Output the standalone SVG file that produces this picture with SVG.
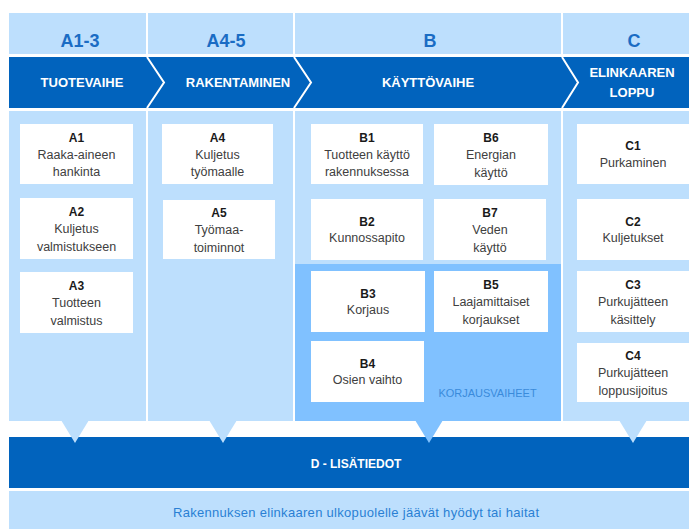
<svg xmlns="http://www.w3.org/2000/svg" width="689" height="529" viewBox="0 0 689 529">
<style>
.lt{fill:#BDDFFD}
.md{fill:#80C1FF}
.dk{fill:#0163BD}
.box{fill:#FFFFFF}
.hd{font-family:"Liberation Sans",Arial,sans-serif;font-weight:bold;font-size:18px;fill:#1A6CC4;text-anchor:middle}
.ph{font-family:"Liberation Sans",Arial,sans-serif;font-weight:bold;font-size:13px;fill:#FFFFFF;text-anchor:middle}
.lb{font-family:"Liberation Sans",Arial,sans-serif;font-weight:bold;font-size:12px;fill:#1A1A1A;text-anchor:middle}
.tx{font-family:"Liberation Sans",Arial,sans-serif;font-size:12.5px;fill:#404040;text-anchor:middle}
.kv{font-family:"Liberation Sans",Arial,sans-serif;font-size:11px;fill:#3A8BDB;text-anchor:middle}
.ft{font-family:"Liberation Sans",Arial,sans-serif;font-size:13px;fill:#2A7FD4;text-anchor:middle}
.sep{fill:none;stroke:#FFFFFF;stroke-width:2}
</style>
<rect width="689" height="529" fill="#FFFFFF"/>
<g id="header-row">
<rect class="lt" x="9" y="13" width="137" height="41"/>
<rect class="lt" x="148" y="13" width="145" height="41"/>
<rect class="lt" x="295" y="13" width="266" height="41"/>
<rect class="lt" x="563" y="13" width="126" height="41"/>
<text class="hd" x="80" y="47">A1-3</text>
<text class="hd" x="226" y="47">A4-5</text>
<text class="hd" x="430" y="47">B</text>
<text class="hd" x="634" y="47">C</text>
</g>
<g id="phase-band">
<rect class="dk" x="9" y="57" width="680" height="51"/>
<polyline class="sep" points="147,57 164,82.5 147,108"/>
<polyline class="sep" points="294,57 311,82.5 294,108"/>
<polyline class="sep" points="562,57 578,82.5 562,108"/>
<text class="ph" x="82" y="87">TUOTEVAIHE</text>
<text class="ph" x="238" y="87">RAKENTAMINEN</text>
<text class="ph" x="428" y="87">KÄYTTÖVAIHE</text>
<text class="ph" x="632" y="77">ELINKAAREN</text>
<text class="ph" x="632" y="97">LOPPU</text>
</g>
<g id="columns">
<rect class="lt" x="9" y="111" width="137" height="310"/>
<rect class="lt" x="148" y="111" width="145" height="310"/>
<rect class="lt" x="295" y="111" width="266" height="153"/>
<rect class="md" x="295" y="264" width="266" height="157"/>
<rect class="lt" x="563" y="111" width="126" height="310"/>
<text class="kv" x="487.5" y="397">KORJAUSVAIHEET</text>
</g>
<g id="connectors">
<rect class="dk" x="9" y="437" width="680" height="51"/>
<polygon class="lt" points="61,420 89,420 75,443"/>
<polygon class="lt" points="209,420 237,420 223,443"/>
<polygon class="md" points="415,420 443,420 429,443"/>
<polygon class="lt" points="619,420 647,420 633,443"/>
</g>
<g id="A1"><rect class="box" x="20" y="124" width="113" height="60"/>
<text class="lb" x="76.5" y="141.5">A1</text><text class="tx" x="76.5" y="158.5">Raaka-aineen</text><text class="tx" x="76.5" y="176">hankinta</text></g>
<g id="A2"><rect class="box" x="20" y="198" width="113" height="61"/>
<text class="lb" x="76.5" y="216">A2</text><text class="tx" x="76.5" y="233">Kuljetus</text><text class="tx" x="76.5" y="250.5">valmistukseen</text></g>
<g id="A3"><rect class="box" x="20" y="272" width="113" height="61"/>
<text class="lb" x="76.5" y="290">A3</text><text class="tx" x="76.5" y="307">Tuotteen</text><text class="tx" x="76.5" y="324.5">valmistus</text></g>
<g id="A4"><rect class="box" x="162" y="124" width="111" height="60"/>
<text class="lb" x="217.5" y="141.5">A4</text><text class="tx" x="217.5" y="158.5">Kuljetus</text><text class="tx" x="217.5" y="176">työmaalle</text></g>
<g id="A5"><rect class="box" x="163" y="200" width="112" height="59"/>
<text class="lb" x="219" y="217">A5</text><text class="tx" x="219" y="234">Työmaa-</text><text class="tx" x="219" y="251.5">toiminnot</text></g>
<g id="B1"><rect class="box" x="311" y="124" width="112" height="60"/>
<text class="lb" x="367" y="141.5">B1</text><text class="tx" x="367" y="158.5">Tuotteen käyttö</text><text class="tx" x="367" y="176">rakennuksessa</text></g>
<g id="B6"><rect class="box" x="434" y="124" width="114" height="61"/>
<text class="lb" x="491" y="142">B6</text><text class="tx" x="491" y="159">Energian</text><text class="tx" x="491" y="176.5">käyttö</text></g>
<g id="B2"><rect class="box" x="311" y="199" width="112" height="61"/>
<text class="lb" x="367" y="225.5">B2</text><text class="tx" x="367" y="242">Kunnossapito</text></g>
<g id="B7"><rect class="box" x="434" y="199" width="112" height="61"/>
<text class="lb" x="490" y="217">B7</text><text class="tx" x="490" y="234">Veden</text><text class="tx" x="490" y="251.5">käyttö</text></g>
<g id="B3"><rect class="box" x="311" y="271" width="114" height="61"/>
<text class="lb" x="368" y="297.5">B3</text><text class="tx" x="368" y="314">Korjaus</text></g>
<g id="B5"><rect class="box" x="434" y="271" width="114" height="61"/>
<text class="lb" x="491" y="289">B5</text><text class="tx" x="491" y="306">Laajamittaiset</text><text class="tx" x="491" y="323.5">korjaukset</text></g>
<g id="B4"><rect class="box" x="311" y="341" width="113" height="61"/>
<text class="lb" x="367.5" y="367.5">B4</text><text class="tx" x="367.5" y="384">Osien vaihto</text></g>
<g id="C1"><rect class="box" x="577" y="124" width="112" height="60"/>
<text class="lb" x="633" y="150">C1</text><text class="tx" x="633" y="167">Purkaminen</text></g>
<g id="C2"><rect class="box" x="577" y="199" width="112" height="61"/>
<text class="lb" x="633" y="225.5">C2</text><text class="tx" x="633" y="242">Kuljetukset</text></g>
<g id="C3"><rect class="box" x="577" y="271" width="112" height="61"/>
<text class="lb" x="633" y="289">C3</text><text class="tx" x="633" y="306">Purkujätteen</text><text class="tx" x="633" y="323.5">käsittely</text></g>
<g id="C4"><rect class="box" x="577" y="343" width="112" height="59"/>
<text class="lb" x="633" y="360">C4</text><text class="tx" x="633" y="377">Purkujätteen</text><text class="tx" x="633" y="394.5">loppusijoitus</text></g>
<g id="D">
<text class="ph" x="356" y="468" style="font-size:12px">D - LISÄTIEDOT</text>
</g>
<g id="footer">
<rect class="lt" x="9" y="491" width="680" height="38"/>
<text class="ft" x="356" y="517" textLength="366" lengthAdjust="spacing">Rakennuksen elinkaaren ulkopuolelle jäävät hyödyt tai haitat</text>
</g>
</svg>
